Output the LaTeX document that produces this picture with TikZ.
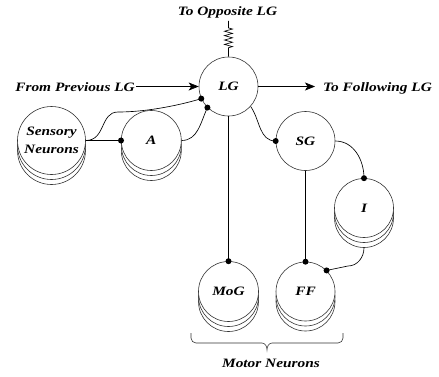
\documentclass[tikz,border=0pt]{standalone}
\usepackage{fontspec}
\setmainfont{Liberation Serif}[FakeStretch=1.2]
\usetikzlibrary{arrows.meta,shadows,decorations.pathmorphing}
\begin{document}
\begin{tikzpicture}[x=1pt,y=1pt,
  lbl/.style={font=\fontsize{12.8}{18.5}\selectfont\bfseries\itshape, inner sep=0pt},
  neuron/.style={circle, draw=black!80, line width=0.6pt, fill=white, minimum size=59pt, inner sep=0pt, lbl},
  stacked/.style={neuron, double copy shadow={shadow xshift=0pt, shadow yshift=-5pt, fill=white, draw=black!80, line width=0.6pt}},
  wire/.style={line width=0.65pt, draw=black},
  arr/.style={wire, -{Stealth[length=10pt,width=8pt,inset=2.5pt]}},
  syn/.style={circle, fill=black, inner sep=0pt, minimum size=6pt},
]
\useasboundingbox (0,0) rectangle (439,376);

% neurons
\node[neuron] (LG) at (228.5,289.5) {LG};
\node[stacked, minimum size=68pt, align=center] (SN) at (51.5,235.5) {Sensory\\Neurons};
\node[stacked, minimum size=60pt] (A) at (151.3,235.5) {A};
\node[neuron] (SG) at (305.5,235) {SG};
\node[stacked] (I) at (364,168) {I};
\node[stacked, minimum size=60pt] (MoG) at (228.5,84.5) {MoG};
\node[stacked] (FF) at (305.5,84.5) {FF};

% text labels
\node[lbl, anchor=base east] (prev) at (135,285) {From Previous LG};
\node[lbl, anchor=base west] (foll) at (323,285) {To Following LG};
\node[lbl, anchor=base] (opp) at (227.5,361) {To Opposite LG};
\node[lbl, anchor=base] (motor) at (271,9) {Motor Neurons};

% arrows
\draw[arr, shorten <=1pt] (prev.east |- LG.west) -- (LG.west);
\draw[arr, shorten >=8pt] (LG.east) -- (foll.west |- LG.east);

% resistor to opposite LG
\coordinate (rtop) at ([yshift=-3pt]opp.south -| LG.north);
\draw[wire, decorate, decoration={zigzag, segment length=4.4pt, amplitude=4pt, pre length=7pt, post length=7pt}] (rtop) -- (LG.north);

% connectors
\coordinate (sbend) at (118,264);
\coordinate (Ibot) at ([yshift=-10pt]I.south);
\coordinate (ibend) at (348,110);
\draw[wire] (SN.east) -- (A.west);
\draw[wire] (SN.east) .. controls +(20,0) and +(-18,0) .. (sbend) .. controls +(32,0) and +(-16,-5) .. (LG.204);
\draw[wire] (A.east) to[out=0,in=245] (LG.225);
\draw[wire] (LG.-42) to[out=-55,in=180] (SG.west);
\draw[wire] (SG.east) to[out=0,in=90] (I.north);
\draw[wire] (SG.south) -- (FF.north);
\draw[wire] (LG.south) -- (MoG.north);
\draw[wire] (Ibot) to[out=-90,in=0] (ibend) -- (FF.45);

% synapse dots
\node[syn] (d1) at (A.west) {};
\node[syn] (d2) at (LG.204) {};
\node[syn] (d3) at (LG.225) {};
\node[syn] (d4) at (SG.west) {};
\node[syn] (d5) at (I.north) {};
\node[syn] (d6) at (MoG.north) {};
\node[syn] (d7) at (FF.north) {};
\node[syn] (d8) at (FF.45) {};

% brace
\draw[line width=0.6pt, black!80] (191,43) -- (191,38) to[out=-90,in=180] (196,33) -- (262,33) to[out=0,in=90] (267,26) to[out=90,in=180] (272,33) -- (338,33) to[out=0,in=-90] (343,38) -- (343,43);
\end{tikzpicture}
\end{document}
